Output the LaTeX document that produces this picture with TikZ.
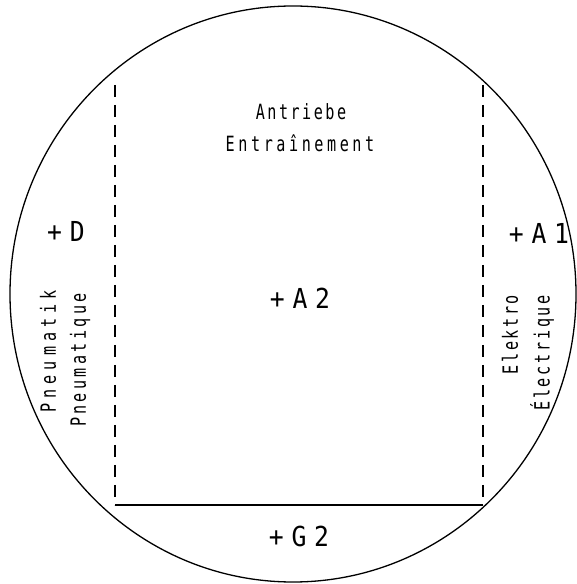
\documentclass[tikz,border=0pt]{standalone}
\usepackage{fontspec}
\newfontfamily\plantext{DejaVu Sans Mono}[FakeStretch=0.72]
\newfontfamily\planmark{DejaVu Sans Mono}[FakeStretch=0.9, LetterSpace=28]
\begin{document}
\begin{tikzpicture}[
  x=1pt, y=1pt,
  outline/.style={draw=black, line width=1.3pt},
  divider/.style={draw=black, line width=1.3pt, dash pattern=on 12pt off 8pt},
  floor/.style={draw=black, line width=1.2pt},
  word/.style={font=\plantext\fontsize{21}{24}\selectfont
    \addfontfeature{LetterSpace=#1}, inner sep=0pt},
  word/.default=12,
  tag/.style={font=\planmark\fontsize{27.5}{30}\selectfont, inner sep=0pt},
  upword/.style={word=#1, rotate=90, anchor=east},
  upword/.default=12
]
  \useasboundingbox (0,0) rectangle (577,584);

  %% ============================================ the round enclosure
  \draw[outline] (293,290) ellipse [x radius=283, y radius=288];

  %% -------------------------------------------- the dividing walls
  \coordinate (wlTop) at (115,499);
  \coordinate (wlBot) at (115,79);
  \coordinate (wrTop) at (483,499);
  \coordinate (wrBot) at (483,79);
  \draw[divider] (wlTop) -- (wlBot);
  \draw[divider] (wrTop) -- (wrBot);
  \draw[floor] (wlBot) -- (wrBot);

  %% -------------------------------------------- the middle bay
  \node[word=12] (antrieb) at (301,472) {Antriebe};
  \node[word=17] (entrain) at (300,441) {Entraînement};
  \node[tag] (a2) at (300,286) {+A2};

  %% -------------------------------------------- the left bay
  \node[tag] (d) at (66,353) {+D};
  \node[upword=24] (pneuDe) at (48,294) {Pneumatik};
  \node[upword=16] (pneuFr) at (80,291) {Pneumatique};

  %% -------------------------------------------- the right bay
  \node[tag] (a1) at (539,351) {+A1};
  \node[upword=12] (elekDe) at (510,289) {Elektro};
  \node[upword=13] (elekFr) at (542,289) {Électrique};

  %% -------------------------------------------- below the floor
  \node[tag] (g2) at (299,48) {+G2};

\end{tikzpicture}
\end{document}
